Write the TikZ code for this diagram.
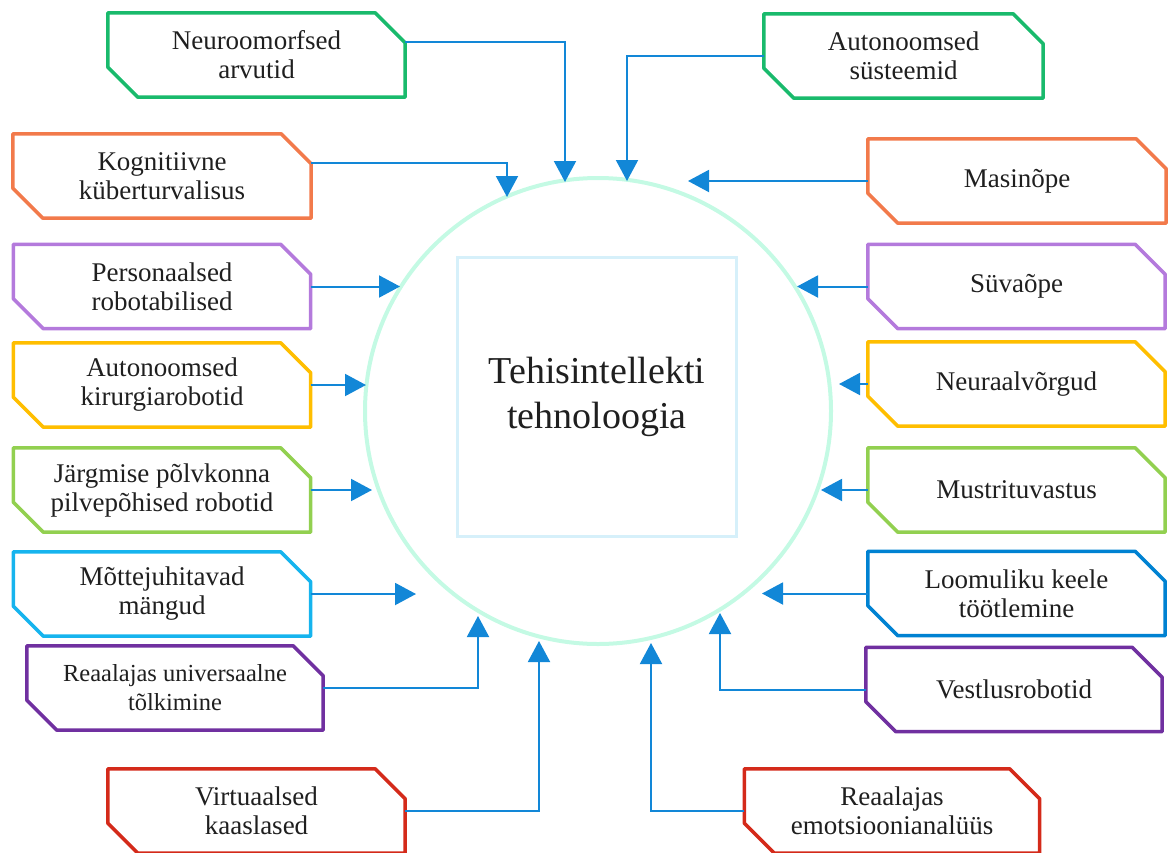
\documentclass[tikz,border=0pt]{standalone}
\usepackage{fontspec}
\setmainfont{Liberation Serif}
\usetikzlibrary{calc, arrows.meta, positioning}

\definecolor{tagGreen}{RGB}{25,186,108}
\definecolor{tagOrange}{RGB}{242,122,75}
\definecolor{tagLilac}{RGB}{180,122,220}
\definecolor{tagAmber}{RGB}{255,190,0}
\definecolor{tagLime}{RGB}{146,208,80}
\definecolor{tagSky}{RGB}{22,180,238}
\definecolor{tagBlue}{RGB}{0,130,210}
\definecolor{tagPlum}{RGB}{112,48,160}
\definecolor{tagRed}{RGB}{212,42,26}
\definecolor{linkBlue}{RGB}{18,135,215}
\definecolor{ringMint}{RGB}{196,250,228}
\definecolor{frameBlue}{RGB}{214,240,250}

% label box with two cut corners: name, colour, centre x, centre y, width, text
\newcommand{\tagbox}[6]{%
	\node[tag, minimum width=#5] (#1) at (#3,#4) {#6};
	\draw[#2, tagline] (#1.north west) -- ([xshift=-30pt]#1.north east) -- ([yshift=-30pt]#1.north east)
		-- (#1.south east) -- ([xshift=30pt]#1.south west) -- ([yshift=30pt]#1.south west) -- cycle;
}

\begin{document}
\begin{tikzpicture}[x=1pt, y=-1pt,
	tag/.style={minimum height=84pt, inner sep=0pt, align=center, text=black!88,
		font=\fontsize{27pt}{29pt}\selectfont},
	tagline/.style={line width=3.5pt, line join=round},
	link/.style={draw=linkBlue, line width=2pt, -{Triangle[length=21pt, width=22pt]}}]
	\useasboundingbox (0,0) rectangle (1168,852);

	% hub
	\node[circle, draw=ringMint, line width=4pt, minimum size=466pt] (hub) at (598,411) {};
	\node[draw=frameBlue, line width=3.5pt, minimum size=279pt, align=center, text=black!88,
		font=\fontsize{38pt}{45pt}\selectfont] (core) at (597,397) {Tehisintellekti\\tehnoloogia};

	% left column
	\tagbox{neuro}{tagGreen}{256.5}{55}{297pt}{Neuroomorfsed\\arvutid}
	\tagbox{cyber}{tagOrange}{162}{176}{298pt}{Kognitiivne\\küberturvalisus}
	\tagbox{assist}{tagLilac}{162}{286.5}{297pt}{Personaalsed\\robotabilised}
	\tagbox{surgery}{tagAmber}{162}{385}{297pt}{Autonoomsed\\kirurgiarobotid}
	\tagbox{cloud}{tagLime}{162}{490}{297pt}{Järgmise põlvkonna\\pilvepõhised robotid}
	\tagbox{games}{tagSky}{162}{594}{297pt}{Mõttejuhitavad\\mängud}
	\tagbox{transl}{tagPlum}{175}{688}{296pt}{\fontsize{24.5pt}{27pt}\selectfont Reaalajas universaalne\\\fontsize{24.5pt}{27pt}\selectfont tõlkimine}
	\tagbox{companion}{tagRed}{256.5}{811}{297pt}{Virtuaalsed\\kaaslased}

	% right column
	\tagbox{autosys}{tagGreen}{903.5}{56}{279pt}{Autonoomsed\\süsteemid}
	\tagbox{ml}{tagOrange}{1017}{181}{298pt}{Masinõpe}
	\tagbox{dl}{tagLilac}{1016.5}{286.5}{297pt}{Süvaõpe}
	\tagbox{nn}{tagAmber}{1016.5}{384}{297pt}{Neuraalvõrgud}
	\tagbox{pattern}{tagLime}{1016.5}{490}{297pt}{Mustrituvastus}
	\tagbox{nlp}{tagBlue}{1016.5}{593.5}{297pt}{Loomuliku keele\\töötlemine}
	\tagbox{chat}{tagPlum}{1014}{689.5}{296pt}{Vestlusrobotid}
	\tagbox{emotion}{tagRed}{892}{811}{295pt}{Reaalajas\\emotsioonianalüüs}

	% arrow tips around the hub
	\coordinate (neuro-in) at (565,182);
	\coordinate (cyber-in) at (507,197);
	\coordinate (assist-in) at (400,286);
	\coordinate (surgery-in) at (366,384);
	\coordinate (cloud-in) at (372,489);
	\coordinate (games-in) at (416,593);
	\coordinate (transl-in) at (478,616);
	\coordinate (companion-in) at (539,641);
	\coordinate (autosys-in) at (627,181);
	\coordinate (ml-in) at (688,182);
	\coordinate (dl-in) at (797,286);
	\coordinate (nn-in) at (839,383);
	\coordinate (pattern-in) at (821,489);
	\coordinate (nlp-in) at (762,593);
	\coordinate (chat-in) at (720,613);
	\coordinate (emotion-in) at (651,643);

	\draw[link] ([yshift=13pt]neuro.east) -| (neuro-in);
	\draw[link] ([yshift=13pt]cyber.east) -| (cyber-in);
	\draw[link] (assist.east) -- (assist.east -| assist-in);
	\draw[link] (surgery.east) -- (surgery.east -| surgery-in);
	\draw[link] (cloud.east) -- (cloud.east -| cloud-in);
	\draw[link] (games.east) -- (games.east -| games-in);
	\draw[link] (transl.east) -| (transl-in);
	\draw[link] (companion.east) -| (companion-in);

	\draw[link] (autosys.west) -| (autosys-in);
	\draw[link] (ml.west) -- (ml.west -| ml-in);
	\draw[link] (dl.west) -- (dl.west -| dl-in);
	\draw[link] (nn.west) -- (nn.west -| nn-in);
	\draw[link] (pattern.west) -- (pattern.west -| pattern-in);
	\draw[link] (nlp.west) -- (nlp.west -| nlp-in);
	\draw[link] (chat.west) -| (chat-in);
	\draw[link] (emotion.west) -| (emotion-in);
\end{tikzpicture}
\end{document}
